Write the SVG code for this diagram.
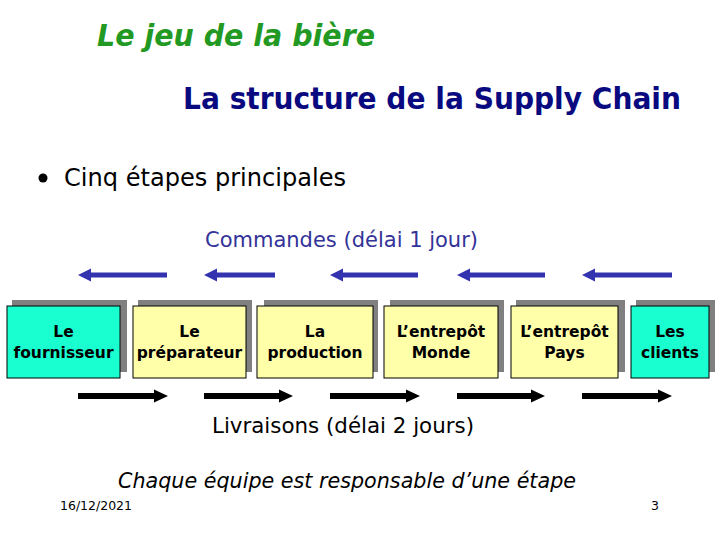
<svg xmlns="http://www.w3.org/2000/svg" width="720" height="540" viewBox="0 0 720 540">
<style>
.t{font-family:"DejaVu Sans",Verdana,sans-serif}
.box{stroke:#000;stroke-width:1}
.cy{fill:#1affd0}
.ye{fill:#ffffaa}
.sh{fill:#808080}
.bt{font-family:"DejaVu Sans",Verdana,sans-serif;font-weight:bold;font-size:15.5px;text-anchor:middle;fill:#000}
.ba{fill:#3333b0}
.ka{fill:#000}
</style>
<rect width="720" height="540" fill="#fff"/>
<text class="t" x="97" y="46" font-size="31" font-weight="bold" font-style="italic" fill="#229922" textLength="278" lengthAdjust="spacingAndGlyphs">Le jeu de la bière</text>
<text class="t" x="183" y="109" font-size="30" font-weight="bold" fill="#0a0a80" textLength="498" lengthAdjust="spacingAndGlyphs">La structure de la Supply Chain</text>
<circle cx="43" cy="178" r="4.5" fill="#000"/>
<text class="t" x="64" y="186" font-size="24.5" fill="#000" textLength="282" lengthAdjust="spacingAndGlyphs">Cinq étapes principales</text>
<text class="t" x="205" y="247" font-size="21" fill="#333399" textLength="273" lengthAdjust="spacingAndGlyphs">Commandes (délai 1 jour)</text>
<g id="connectors">
<polygon class="ba" points="78,275 91,268.5 91,272.5 167,272.5 167,277.5 91,277.5 91,281.5"/>
<polygon class="ba" points="204,275 217,268.5 217,272.5 275,272.5 275,277.5 217,277.5 217,281.5"/>
<polygon class="ba" points="330,275 343,268.5 343,272.5 418,272.5 418,277.5 343,277.5 343,281.5"/>
<polygon class="ba" points="457,275 470,268.5 470,272.5 545,272.5 545,277.5 470,277.5 470,281.5"/>
<polygon class="ba" points="582,275 595,268.5 595,272.5 672,272.5 672,277.5 595,277.5 595,281.5"/>
<polygon class="ka" points="168,396 154,389.5 154,393 78,393 78,399 154,399 154,402.5"/>
<polygon class="ka" points="293,396 279,389.5 279,393 204,393 204,399 279,399 279,402.5"/>
<polygon class="ka" points="420,396 406,389.5 406,393 330,393 330,399 406,399 406,402.5"/>
<polygon class="ka" points="545,396 531,389.5 531,393 457,393 457,399 531,399 531,402.5"/>
<polygon class="ka" points="672,396 658,389.5 658,393 582,393 582,399 658,399 658,402.5"/>
</g>
<g id="fournisseur">
<rect class="sh" x="12" y="300" width="115" height="72"/>
<rect class="box cy" x="7" y="306" width="113" height="72"/>
<text class="bt" x="63.5" y="337">Le</text>
<text class="bt" x="63.5" y="358">fournisseur</text>
</g>
<g id="preparateur">
<rect class="sh" x="138" y="300" width="114" height="72"/>
<rect class="box ye" x="133" y="306" width="113" height="72"/>
<text class="bt" x="189.5" y="337">Le</text>
<text class="bt" x="189.5" y="358">préparateur</text>
</g>
<g id="production">
<rect class="sh" x="264" y="300" width="114" height="72"/>
<rect class="box ye" x="257" y="306" width="116" height="72"/>
<text class="bt" x="315" y="337">La</text>
<text class="bt" x="315" y="358">production</text>
</g>
<g id="entrepot-monde">
<rect class="sh" x="390" y="300" width="114" height="72"/>
<rect class="box ye" x="384" y="306" width="114" height="72"/>
<text class="bt" x="441" y="337">L’entrepôt</text>
<text class="bt" x="441" y="358">Monde</text>
</g>
<g id="entrepot-pays">
<rect class="sh" x="516" y="300" width="109" height="72"/>
<rect class="box ye" x="511" y="306" width="107" height="72"/>
<text class="bt" x="564.5" y="337">L’entrepôt</text>
<text class="bt" x="564.5" y="358">Pays</text>
</g>
<g id="clients">
<rect class="sh" x="636" y="300" width="79" height="72"/>
<rect class="box cy" x="631" y="306" width="78" height="72"/>
<text class="bt" x="670" y="337">Les</text>
<text class="bt" x="670" y="358">clients</text>
</g>
<text class="t" x="212" y="433" font-size="21" fill="#000" textLength="262" lengthAdjust="spacingAndGlyphs">Livraisons (délai 2 jours)</text>
<text class="t" x="118" y="488" font-size="22" font-style="italic" fill="#000" textLength="458" lengthAdjust="spacingAndGlyphs">Chaque équipe est responsable d’une étape</text>
<text class="t" x="60" y="510" font-size="12.5" fill="#000" textLength="72" lengthAdjust="spacingAndGlyphs">16/12/2021</text>
<text class="t" x="651" y="510" font-size="12.5" fill="#000">3</text>
</svg>
